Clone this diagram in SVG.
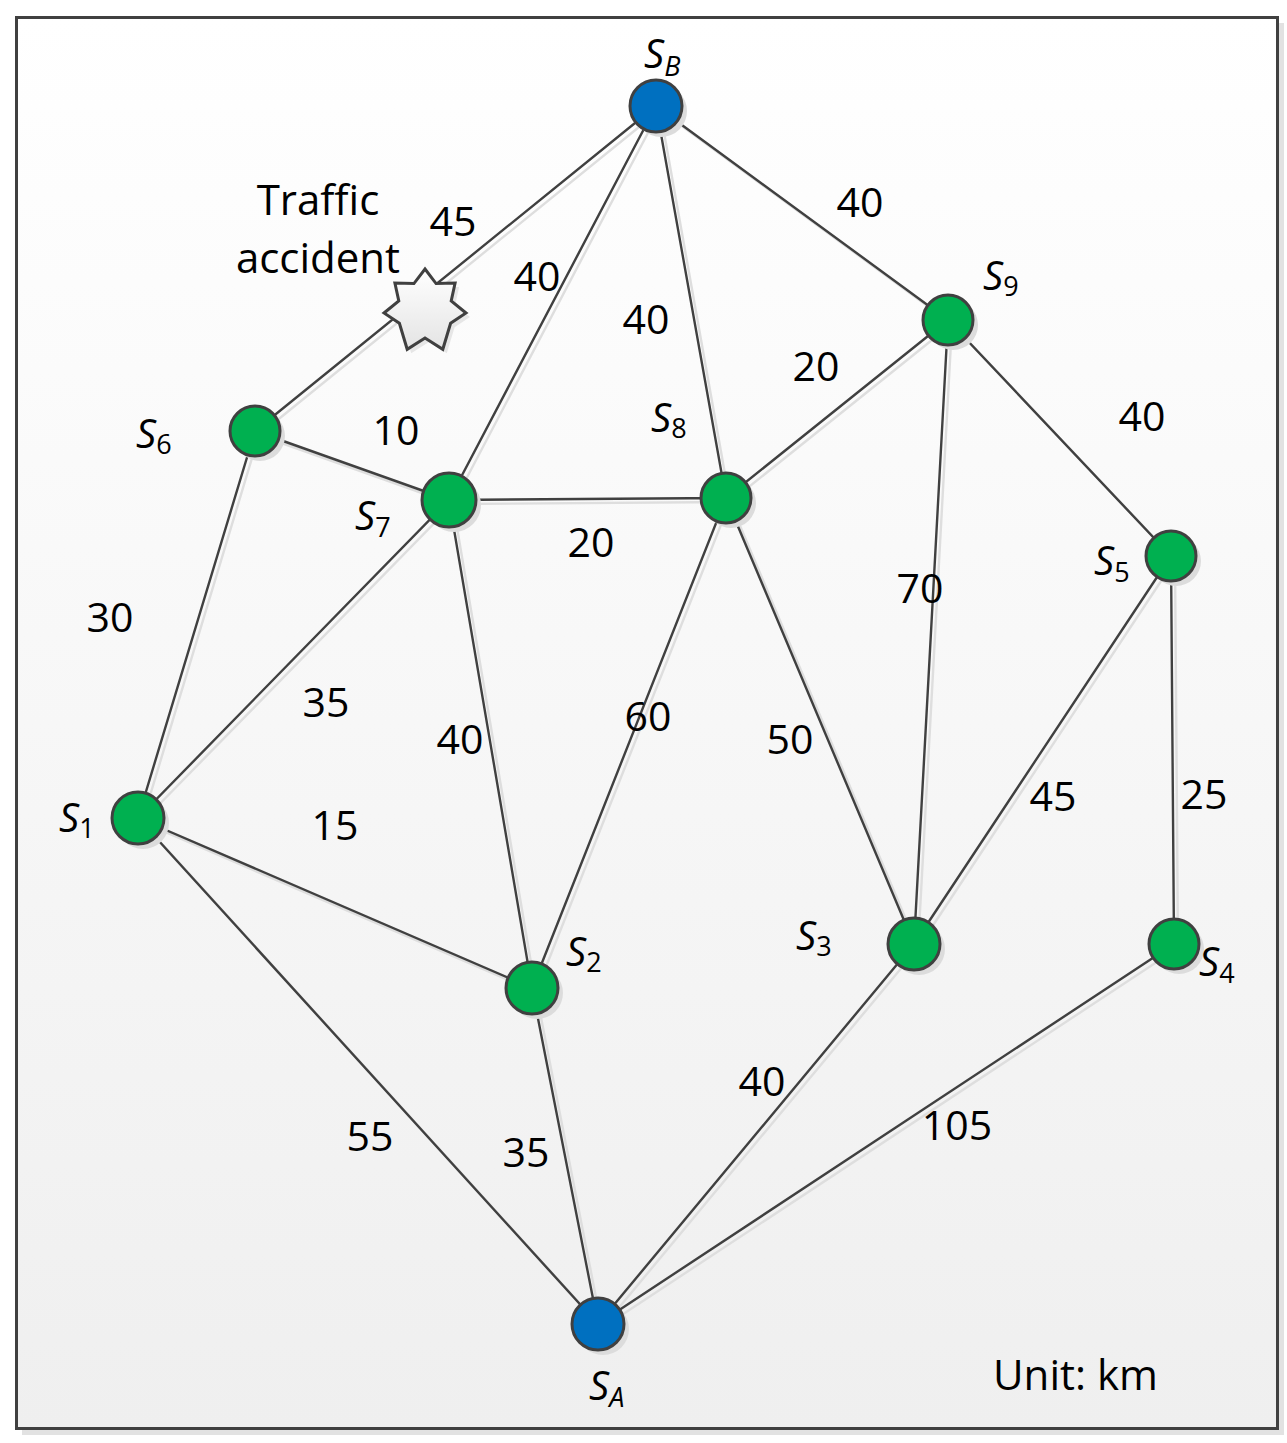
<svg xmlns="http://www.w3.org/2000/svg" width="1287" height="1443" viewBox="0 0 1287 1443">
<style>
.num{font-family:"Open Sans","Liberation Sans",sans-serif;font-size:41px;fill:#000;text-anchor:middle}
.txt{font-family:"Open Sans","Liberation Sans",sans-serif;font-size:42px;fill:#000}
.s{font-family:"Open Sans","Liberation Sans",sans-serif;font-size:40px;font-style:italic;fill:#000}
.sub{font-size:27px;font-style:normal}
.subi{font-size:27px;font-style:italic}
.edge{stroke:#404040;stroke-width:2.4;fill:none}
.shadow .edge{stroke:#dedede}
.node{stroke:#404040;stroke-width:3}
.g{fill:#00b050}
.b{fill:#0070c0}
.nsh{fill:#dcdcdc}
</style>
<defs>
<linearGradient id="bg" x1="0" y1="0" x2="0" y2="1">
<stop offset="0" stop-color="#ffffff"/>
<stop offset="1" stop-color="#efefef"/>
</linearGradient>
<linearGradient id="starg" x1="0" y1="0" x2="0" y2="1">
<stop offset="0" stop-color="#ffffff"/>
<stop offset="1" stop-color="#e4e4e4"/>
</linearGradient>
</defs>
<rect x="0" y="0" width="1287" height="1443" fill="#ffffff"/>
<rect x="22" y="23" width="1262" height="1412" fill="#e2e2e2"/>
<rect x="16.5" y="17.5" width="1261" height="1411" fill="url(#bg)" stroke="#404040" stroke-width="3"/>

<g id="connectors-shadow" class="shadow" transform="translate(4,4)">
<path class="edge" d="M656,106L255,431M656,106L449,500M656,106L726,498M656,106L948,320M255,431L449,500M255,431L138,818M449,500L726,498M449,500L138,818M449,500L532,988M726,498L948,320M726,498L532,988M726,498L914,944M948,320L914,944M948,320L1171,556M1171,556L914,944M1171,556L1174,944M138,818L532,988M138,818L598,1324M532,988L598,1324M914,944L598,1324M1174,944L598,1324"/>
</g>
<g id="connectors">
<path class="edge" d="M656,106L255,431M656,106L449,500M656,106L726,498M656,106L948,320M255,431L449,500M255,431L138,818M449,500L726,498M449,500L138,818M449,500L532,988M726,498L948,320M726,498L532,988M726,498L914,944M948,320L914,944M948,320L1171,556M1171,556L914,944M1171,556L1174,944M138,818L532,988M138,818L598,1324M532,988L598,1324M914,944L598,1324M1174,944L598,1324"/>
</g>

<g id="edge-labels">
<text class="num" x="453" y="236">45</text>
<text class="num" x="537" y="291">40</text>
<text class="num" x="646" y="334">40</text>
<text class="num" x="860" y="217">40</text>
<text class="num" x="816" y="381">20</text>
<text class="num" x="1142" y="431">40</text>
<text class="num" x="396" y="445">10</text>
<text class="num" x="591" y="557">20</text>
<text class="num" x="920" y="603">70</text>
<text class="num" x="110" y="632">30</text>
<text class="num" x="326" y="717">35</text>
<text class="num" x="460" y="754">40</text>
<text class="num" x="648" y="731">60</text>
<text class="num" x="790" y="754">50</text>
<text class="num" x="1053" y="811">45</text>
<text class="num" x="1204" y="809">25</text>
<text class="num" x="335" y="840">15</text>
<text class="num" x="762" y="1096">40</text>
<text class="num" x="957" y="1140">105</text>
<text class="num" x="370" y="1151">55</text>
<text class="num" x="526" y="1167">35</text>
</g>

<g id="accident">
<polygon points="425,269 436.1,283.6 455.1,283.1 451.2,301.0 466,313 450.6,323.2 442.8,349.3 425,338 407.2,349.3 399.4,323.2 384,313 398.8,301.0 394.9,283.1 413.9,283.6" fill="#d8d8d8" transform="translate(4,4)" opacity="0.6"/>
<polygon points="425,269 436.1,283.6 455.1,283.1 451.2,301.0 466,313 450.6,323.2 442.8,349.3 425,338 407.2,349.3 399.4,323.2 384,313 398.8,301.0 394.9,283.1 413.9,283.6" fill="url(#starg)" stroke="#404040" stroke-width="3" stroke-linejoin="miter"/>
<text class="txt" x="318" y="215" text-anchor="middle">Traffic</text>
<text class="txt" x="318" y="273" text-anchor="middle">accident</text>
</g>

<g id="node-SB"><circle class="nsh" cx="661" cy="111" r="26"/><circle class="node b" cx="656" cy="106" r="26"/><text class="s" x="644" y="68">S<tspan class="subi" dy="8">B</tspan></text></g>
<g id="node-S9"><circle class="nsh" cx="953" cy="325" r="25"/><circle class="node g" cx="948" cy="320" r="25"/><text class="s" x="983" y="290">S<tspan class="sub" dy="6">9</tspan></text></g>
<g id="node-S6"><circle class="nsh" cx="260" cy="436" r="25"/><circle class="node g" cx="255" cy="431" r="25"/><text class="s" x="136" y="448">S<tspan class="sub" dy="6">6</tspan></text></g>
<g id="node-S7"><circle class="nsh" cx="454" cy="505" r="27"/><circle class="node g" cx="449" cy="500" r="27"/><text class="s" x="355" y="530">S<tspan class="sub" dy="7">7</tspan></text></g>
<g id="node-S8"><circle class="nsh" cx="731" cy="503" r="25"/><circle class="node g" cx="726" cy="498" r="25"/><text class="s" x="651" y="432">S<tspan class="sub" dy="6">8</tspan></text></g>
<g id="node-S5"><circle class="nsh" cx="1176" cy="561" r="25"/><circle class="node g" cx="1171" cy="556" r="25"/><text class="s" x="1094" y="575">S<tspan class="sub" dy="7">5</tspan></text></g>
<g id="node-S1"><circle class="nsh" cx="143" cy="823" r="26"/><circle class="node g" cx="138" cy="818" r="26"/><text class="s" x="59" y="832">S<tspan class="sub" dy="6">1</tspan></text></g>
<g id="node-S2"><circle class="nsh" cx="537" cy="993" r="26"/><circle class="node g" cx="532" cy="988" r="26"/><text class="s" x="566" y="966">S<tspan class="sub" dy="6">2</tspan></text></g>
<g id="node-S3"><circle class="nsh" cx="919" cy="949" r="26"/><circle class="node g" cx="914" cy="944" r="26"/><text class="s" x="796" y="950">S<tspan class="sub" dy="6">3</tspan></text></g>
<g id="node-S4"><circle class="nsh" cx="1179" cy="949" r="25"/><circle class="node g" cx="1174" cy="944" r="25"/><text class="s" x="1199" y="976">S<tspan class="sub" dy="7">4</tspan></text></g>
<g id="node-SA"><circle class="nsh" cx="603" cy="1329" r="26"/><circle class="node b" cx="598" cy="1324" r="26"/><text class="s" x="589" y="1400">S<tspan class="subi" dy="7">A</tspan></text></g>

<text class="txt" x="993" y="1390">Unit: km</text>
</svg>
